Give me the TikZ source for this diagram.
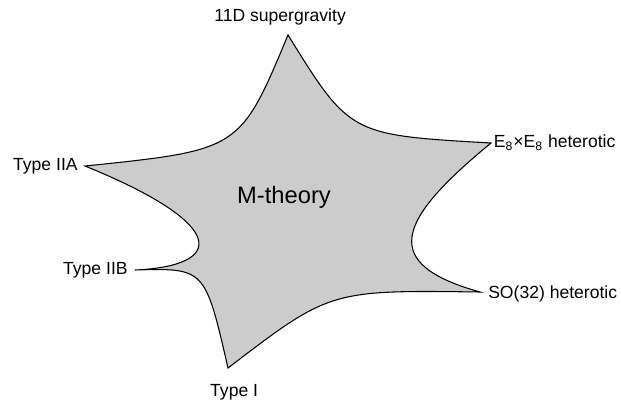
\documentclass[tikz,border=0pt]{standalone}
\usepackage{fontspec}
\setmainfont{Liberation Sans}
\usetikzlibrary{positioning}
\definecolor{mgray}{RGB}{204,204,204}
\tikzset{
  mshape/.style={draw=black, fill=mgray, line width=0.6pt},
  vlab/.style={inner sep=0pt, font=\fontsize{10}{12}\selectfont},
  mlab/.style={inner sep=0pt, font=\fontsize{13.5}{16}\selectfont},
}

\begin{document}
\begin{tikzpicture}[x=0.02cm, y=-0.02cm]
  \useasboundingbox (0,0) rectangle (621,406);
  % tips of the star
  \coordinate (sugra) at (288,35);
  \coordinate (hete) at (491,143);
  \coordinate (heto) at (480,292);
  \coordinate (typei) at (228,368);
  \coordinate (iib) at (135,270);
  \coordinate (iia) at (85,166);
  \draw[mshape] (sugra) .. controls (350,135) .. (hete)
    .. controls (395,222) and (380,264) .. (heto)
    .. controls (330,290) .. (typei)
    .. controls (205,268) .. (iib)
    .. controls (225,266) and (230,225) .. (iia)
    .. controls (240,150) .. cycle;
  % labels
  \node[vlab, above=5.5pt of sugra, xshift=-4.5pt] (sugralab) {11D supergravity};
  \node[vlab, right=1.5pt of hete] (hetelab) {E\textsubscript{8}×E\textsubscript{8} heterotic};
  \node[vlab, right=4.5pt of heto, yshift=-1pt] (hetolab) {SO(32) heterotic};
  \node[vlab, below=9pt of typei, xshift=3.5pt] (typeilab) {Type I};
  \node[vlab, left=4pt of iib] (iiblab) {Type IIB};
  \node[vlab, left=4pt of iia] (iialab) {Type IIA};
  \node[mlab] (mth) at (284,197) {M-theory};
\end{tikzpicture}
\end{document}
